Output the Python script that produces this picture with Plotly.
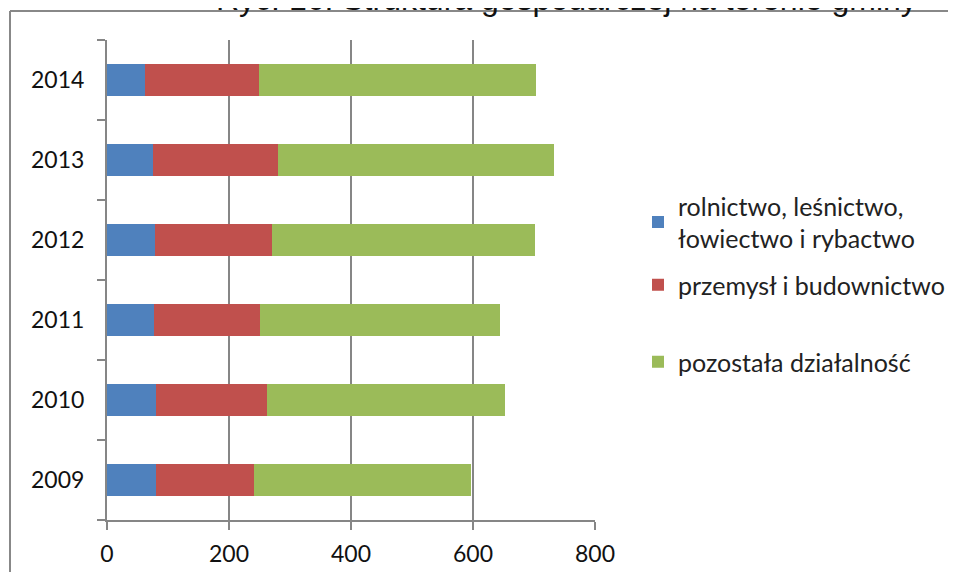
import plotly.graph_objects as go

years = ["2009", "2010", "2011", "2012", "2013", "2014"]
rolnictwo = [81, 81, 77, 79, 75, 63]
przemysl = [160, 182, 174, 191, 205, 186]
pozostala = [356, 390, 394, 432, 453, 455]

series_names = [
    "rolnictwo, leśnictwo,<br>łowiectwo i rybactwo",
    "przemysł i budownictwo",
    "pozostała działalność",
]
colors = ["#4F81BD", "#C0504D", "#9BBB59"]
x_ticks = [0, 200, 400, 600, 800]

FONT = "Lato"
OFF = 8  # page body margin shifts the figure
W, H = 956 - 2 * OFF, 580 - 2 * OFF

# plot box in picture pixels
PL, PR, PT, PB = 107 - OFF, 595 - OFF, 40 - OFF, 520 - OFF
PW, PH = PR - PL, PB - PT


def px_x(x):
    return (x - OFF - PL) / PW


def px_y(y):
    return (PB - (y - OFF)) / PH


fig = go.Figure()
legends = ["legend", "legend2", "legend3"]
for name, vals, col, lg in zip(series_names, [rolnictwo, przemysl, pozostala], colors, legends):
    fig.add_trace(go.Bar(
        y=years, x=vals, name=name, orientation="h",
        marker=dict(color=col, line=dict(width=0)),
        legend=lg, showlegend=True,
    ))

leg_common = dict(
    xref="container", yref="container",
    xanchor="left", yanchor="middle", bgcolor="rgba(0,0,0,0)",
    font=dict(family=FONT, size=25, color="#222222"),
    itemwidth=30, tracegroupgap=0, visible=True,
)


def leg_pos(x, y):
    return dict(x=(x - OFF) / W, y=1 - (y - OFF) / H)


frame = dict(type="line", xref="paper", yref="paper",
             line=dict(color="#888888", width=2), layer="below")

fig.update_layout(
    width=W, height=H, autosize=False,
    margin=dict(l=PL, r=W - PR, t=PT, b=H - PB),
    paper_bgcolor="white", plot_bgcolor="white",
    barmode="stack", bargap=0.6, showlegend=True,
    font=dict(family=FONT, size=23, color="#111111"),
    legend=dict(**leg_pos(638, 222), **leg_common),
    legend2=dict(**leg_pos(638, 285), **leg_common),
    legend3=dict(**leg_pos(638, 362), **leg_common),
    xaxis=dict(
        range=[0, 800], tickvals=x_ticks, showgrid=True,
        gridcolor="#868686", gridwidth=1.5,
        showline=True, linecolor="#868686", linewidth=2,
        ticks="outside", ticklen=8, tickcolor="#868686", tickwidth=1.5,
        zeroline=False, fixedrange=True, automargin=False,
        ticklabelstandoff=4,
    ),
    yaxis=dict(
        type="category", categoryorder="array", categoryarray=years,
        showline=True, linecolor="#868686", linewidth=2,
        ticks="outside", ticklen=8, tickcolor="#868686", tickwidth=1.5,
        tickson="boundaries", showgrid=False, ticklabelstandoff=16,
        automargin=False,
    ),
    shapes=[
        dict(x0=px_x(10), x1=px_x(1000), y0=px_y(11), y1=px_y(11), **frame),
        dict(x0=px_x(10), x1=px_x(10), y0=px_y(11), y1=px_y(700), **frame),
    ],
    annotations=[dict(
        text="Ryc. 16. Struktura gospodarczej na terenie gminy",
        xref="paper", yref="paper", x=px_x(566), y=px_y(-1),
        xanchor="center", yanchor="middle", showarrow=False,
        font=dict(family="Liberation Sans", size=32, color="#111111"),
    )],
)

fig.write_html("out.html")
